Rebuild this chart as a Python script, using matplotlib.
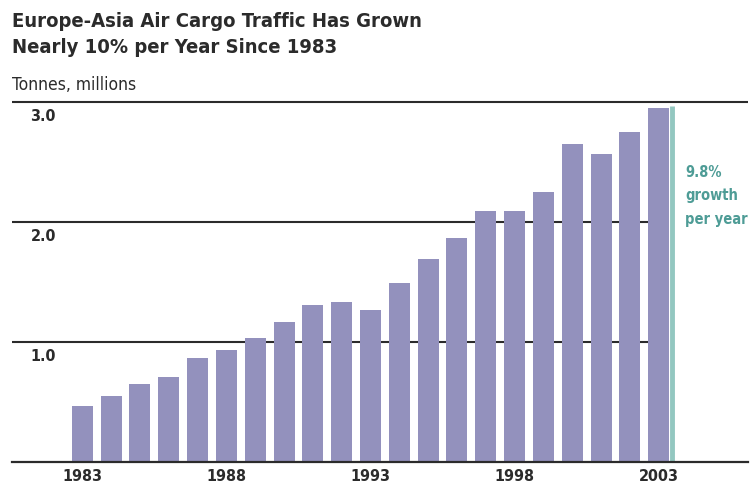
import matplotlib
matplotlib.use('Agg')
import matplotlib.pyplot as plt
import numpy as np

years = list(range(1983, 2004))
tonnes = [0.47, 0.55, 0.65, 0.71, 0.87, 0.93, 1.03, 1.17, 1.31, 1.33, 1.27,
          1.49, 1.69, 1.87, 2.09, 2.09, 2.25, 2.65, 2.57, 2.75, 2.95]
grid_vals = [1.0, 2.0, 3.0]
tick_years = [1983, 1988, 1993, 1998, 2003]
growth_label = '9.8%\ngrowth\nper year'

bar_color = '#9391bd'
teal = '#4e9c96'
teal_light = '#93c7c0'
dark = '#2b2b2b'

plt.rcParams['font.family'] = ['DejaVu Sans']
plt.rcParams['font.stretch'] = 'condensed'

x_lo, x_hi = 1980.56, 2006.1

fig = plt.figure(figsize=(7.5, 4.83), dpi=100)
ax = fig.add_axes([12 / 750, 21 / 483, 736 / 750, 360 / 483])

# gridlines behind the bars; inner ones stop at the last bar
for g in grid_vals:
    right = x_hi if g == grid_vals[-1] else years[-1]
    ax.hlines(g, x_lo, right, color=dark, lw=1.5, zorder=1, clip_on=False)
    ax.text(1981.2, g - 0.06, '%.1f' % g, ha='left', va='top',
            fontsize=11.5, fontweight='bold', color=dark)
ax.axhline(0, color=dark, lw=1.6, zorder=3, clip_on=False)

ax.bar(years, tonnes, width=0.73, color=bar_color, zorder=2)

# growth marker next to last bar
ax.plot([years[-1] + 0.45, years[-1] + 0.45], [0, tonnes[-1] + 0.02],
        color=teal_light, lw=3.5, zorder=2, solid_capstyle='butt')
ax.text(years[-1] + 0.93, 2.475, growth_label, ha='left', va='top',
        fontsize=10.5, fontweight='bold', color=teal, linespacing=1.7)

ax.set_xlim(x_lo, x_hi)
ax.set_ylim(0, 3.0)
ax.set_xticks(tick_years)
ax.set_xticklabels([str(y) for y in tick_years], fontsize=11.5,
                   fontweight='bold', color=dark)
ax.tick_params(axis='x', length=0, pad=5)
ax.set_yticks([])
for s in ax.spines.values():
    s.set_visible(False)

fig.text(12 / 750, 1 - 12 / 483,
         'Europe-Asia Air Cargo Traffic Has Grown\nNearly 10% per Year Since 1983',
         ha='left', va='top', fontsize=14.5, fontweight='bold', color=dark,
         linespacing=1.45)
fig.text(12 / 750, 1 - 76 / 483, 'Tonnes, millions', ha='left', va='top',
         fontsize=12.5, color=dark)

fig.savefig('out.png', dpi=100)
